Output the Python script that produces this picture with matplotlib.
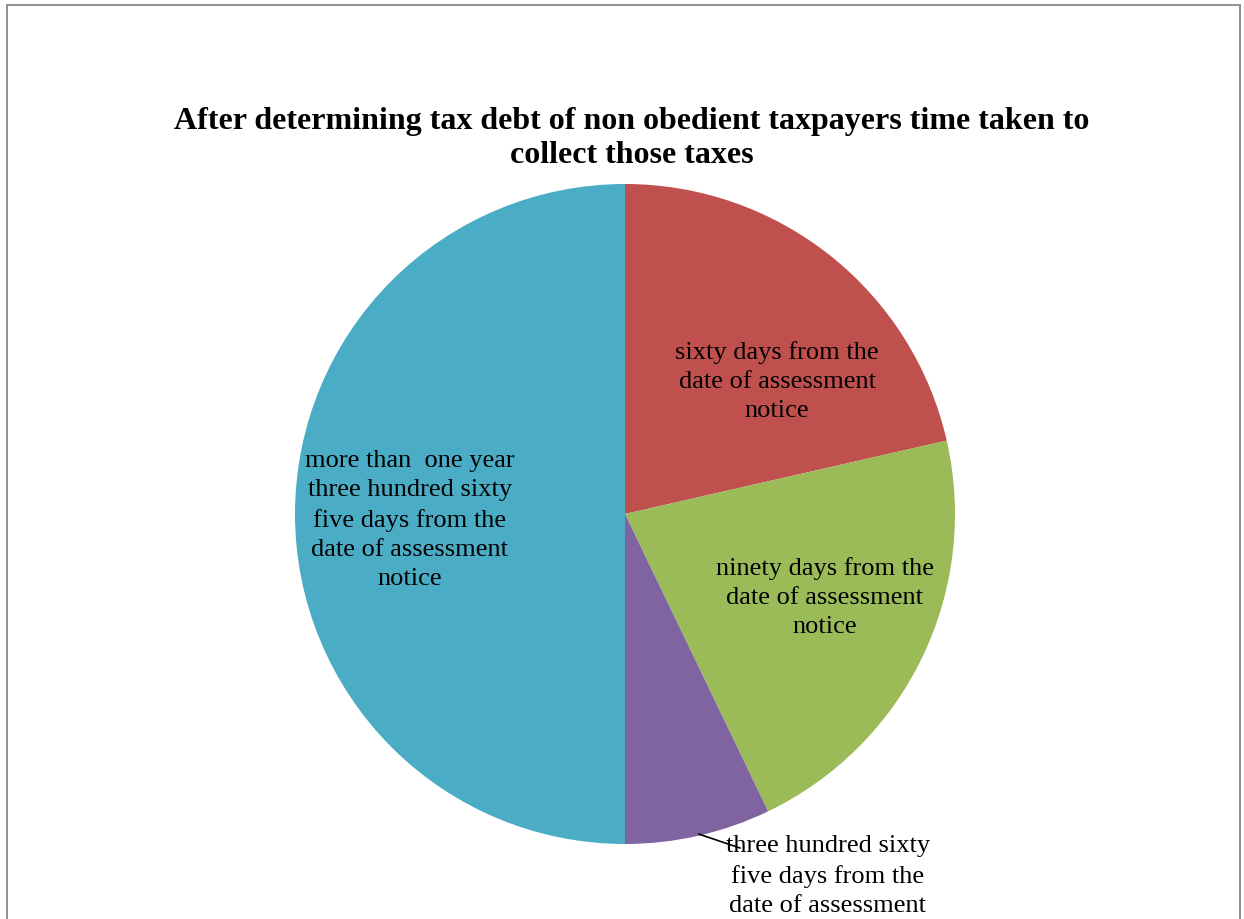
import matplotlib.pyplot as plt
from matplotlib.patches import Rectangle

plt.rcParams['font.family'] = ['Liberation Serif', 'DejaVu Serif']

categories = [
    "sixty days from the\ndate of assessment\nnotice",
    "ninety days from the\ndate of assessment\nnotice",
    "three hundred sixty\nfive days from the\ndate of assessment\nnotice",
    "more than  one year\nthree hundred sixty\nfive days from the\ndate of assessment\nnotice",
]
values = [3, 3, 1, 7]
colors = ["#C0504D", "#9BBB59", "#8064A2", "#4BACC6"]
title = "After determining tax debt of non obedient taxpayers time taken to\ncollect those taxes"

W, H = 1244, 920
fig = plt.figure(figsize=(W / 100, H / 100), dpi=100)

# outer chart frame
fig.patches.append(Rectangle((7 / W, -0.05), (1240 - 7) / W, 1.05 - 6 / H,
                             transform=fig.transFigure, fill=False,
                             edgecolor="#878787", linewidth=1.3))

cx, cy, r = 625, 515, 330
ax = fig.add_axes([(cx - r) / W, (H - cy - r) / H, 2 * r / W, 2 * r / H])
ax.pie(values, colors=colors, startangle=90, counterclock=False, radius=1,
       wedgeprops=dict(linewidth=0))
ax.set_xlim(-1, 1)
ax.set_ylim(-1, 1)
ax.set_aspect('equal')
ax.axis('off')

# label positions inside the pie (data units, radius = 1)
label_pos = [(0.461, 0.404), (0.606, -0.250), (0.615, -1.139), (-0.652, -0.015)]
for text, (x, y) in zip(categories, label_pos):
    ax.text(x, y, text, ha='center', va='center', fontsize=19,
            linespacing=1.42, clip_on=False)

# leader line for the small slice
ax.plot([0.224, 0.348], [-0.970, -1.012], color='black', lw=1.2, clip_on=False)

fig.text(0.508, 0.8497, title, ha='center', va='center', fontsize=23,
         fontweight='bold', linespacing=1.22)

fig.savefig("out.png", dpi=100)
